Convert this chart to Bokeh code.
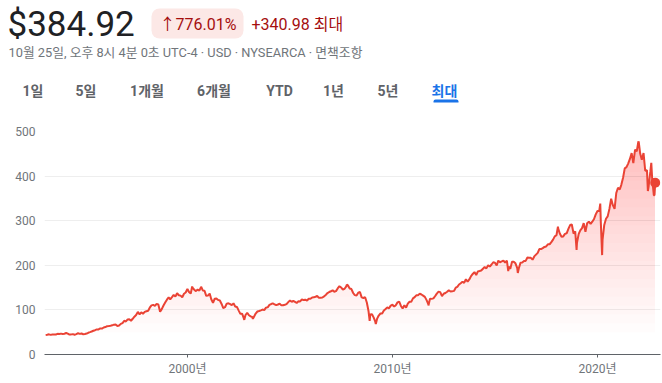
import numpy as np
import pandas as pd
from datetime import datetime
from bokeh.plotting import figure
from bokeh.models import Range1d, FixedTicker, ColumnDataSource
from bokeh.embed import file_html
from bokeh.resources import INLINE
from bokeh.core.properties import value

# ---------------- data (month-end closes) ----------------
prices_1993_1999 = [
    43.9, 44.3, 45.2, 44.0, 45.0, 45.1, 44.8, 46.4, 45.9, 46.8, 46.2, 46.6,
    48.2, 46.7, 44.6, 45.1, 45.7, 44.4, 45.8, 47.6, 46.3, 47.2, 45.4, 45.9,
    47.0, 48.7, 50.1, 51.5, 53.3, 54.5, 56.2, 56.2, 58.4, 58.2, 60.5, 61.6,
    63.6, 64.0, 64.6, 65.4, 66.9, 67.1, 64.0, 65.2, 68.7, 70.5, 75.7, 74.1,
    78.6, 79.1, 75.7, 80.1, 84.8, 88.5, 95.4, 90.0, 94.7, 91.5, 95.5, 97.0,
    98.0, 104.9, 110.2, 111.2, 109.1, 113.4, 112.1, 95.7, 101.7, 109.9, 116.4, 122.9,
    128.0, 123.8, 128.6, 133.5, 130.2, 137.3, 132.9, 132.0, 128.3, 136.3, 138.9, 146.9,
]
prices_2000_2009 = [
    139.5, 136.6, 149.9, 145.2, 142.1, 145.5, 143.1, 151.8, 143.7, 142.9, 131.5, 132.0,
    136.6, 124.0, 116.0, 125.0, 125.6, 122.4, 121.1, 113.4, 104.1, 106.0, 114.0, 114.8,
    113.0, 110.7, 114.7, 107.7, 106.7, 99.0, 91.2, 91.6, 81.5, 88.6, 93.6, 88.0,
    85.6, 84.1, 84.8, 91.7, 96.4, 97.5, 99.0, 100.8, 99.6, 105.1, 105.8, 111.2,
    113.1, 114.5, 112.6, 110.7, 112.1, 114.1, 110.2, 110.4, 111.5, 113.0, 117.4, 121.2,
    118.1, 120.4, 118.1, 115.7, 119.2, 119.1, 123.4, 122.0, 122.9, 120.7, 125.0, 124.8,
    128.0, 128.1, 129.5, 131.1, 127.0, 127.0, 127.7, 130.4, 133.6, 137.8, 140.1, 141.8,
    143.8, 140.7, 142.1, 148.2, 153.1, 150.3, 145.5, 147.4, 152.7, 154.9, 148.1, 146.8,
    137.9, 133.1, 132.3, 138.6, 140.0, 128.0, 126.7, 128.3, 116.6, 96.9, 89.6, 90.3,
    82.6, 73.5, 79.8, 87.3, 91.9, 91.9, 98.8, 102.1, 105.7, 103.6, 109.6, 111.5,
]
prices_2010_2019 = [
    107.4, 110.5, 116.9, 118.7, 108.9, 103.1, 110.2, 104.9, 114.1, 118.3, 118.1, 125.8,
    128.6, 132.7, 132.6, 136.4, 134.5, 132.1, 129.2, 121.9, 113.1, 125.3, 124.7, 125.8,
    131.2, 136.6, 140.9, 139.8, 131.0, 136.2, 137.9, 140.7, 144.1, 141.2, 141.6, 142.6,
    149.8, 151.5, 156.9, 159.8, 163.1, 160.6, 168.6, 163.3, 168.2, 175.7, 180.6, 184.8,
    178.3, 186.0, 187.2, 188.4, 192.4, 196.0, 193.1, 200.3, 197.2, 201.8, 206.8, 205.9,
    199.5, 210.5, 206.8, 208.6, 210.7, 206.3, 210.4, 197.2, 192.0, 207.9, 208.0, 204.4,
    194.0, 193.2, 206.0, 206.5, 209.7, 209.9, 217.4, 217.1, 216.8, 212.6, 219.9, 223.9,
    227.9, 236.4, 236.3, 238.4, 241.2, 242.3, 247.0, 247.2, 251.9, 257.5, 264.8, 267.4,
    282.4, 271.4, 264.1, 264.8, 270.5, 271.8, 281.6, 290.2, 291.4, 271.2, 276.0, 250.7,
    270.4, 278.5, 283.4, 294.6, 275.2, 294.2, 298.0, 292.7, 297.7, 303.8, 314.1, 321.9,
]
prices_2020_2022 = [
    321.7, 296.3, 257.8, 290.5, 304.3, 309.7, 326.5, 349.3, 334.9, 326.5, 362.1, 373.9,
    370.1, 380.4, 396.3, 417.3, 420.0, 428.1, 438.5, 451.6, 429.1, 459.3, 455.6, 475.0,
    449.9, 436.6, 451.6, 412.0, 412.9, 377.3, 411.0, 395.2, 357.2,
]
# intra-month highs and lows visible in the chart
extreme_dates = [
    "2000-03-24", "2002-10-09", "2003-03-11", "2007-10-09", "2008-11-20",
    "2009-03-09", "2011-10-03", "2015-08-25", "2016-02-11", "2018-01-26",
    "2018-12-24", "2020-02-19", "2020-03-23", "2021-12-29", "2022-01-03",
    "2022-06-16", "2022-08-16", "2022-10-12", "2022-10-25",
]
extreme_prices = [
    152.6, 77.7, 80.0, 156.5, 75.3,
    68.1, 109.9, 186.9, 182.9, 286.6,
    234.3, 338.3, 222.9, 477.5, 477.7,
    366.6, 429.7, 357.0, 384.92,
]

y_ticks = [0, 100, 200, 300, 400, 500]
x_tick_dates = ["2000-01-01", "2010-01-01", "2020-01-01"]
x_tick_labels = ["2000년", "2010년", "2020년"]
tab_labels = ["1일", "5일", "1개월", "6개월", "YTD", "1년", "5년", "최대"]

price_text = "$384.92"
change_pct = "↑776.01%"
change_abs = "+340.98 최대"
subtitle = "10월 25일, 오후 8시 4분 0초 UTC-4 · USD · NYSEARCA · 면책조항"

# ---------------- build series ----------------
monthly = prices_1993_1999 + prices_2000_2009 + prices_2010_2019 + prices_2020_2022
monthly_dates = pd.date_range("1993-01-29", periods=len(monthly), freq=pd.offsets.MonthEnd())
df = pd.DataFrame({
    "date": list(monthly_dates) + list(pd.to_datetime(extreme_dates)),
    "price": monthly + extreme_prices,
}).sort_values("date").reset_index(drop=True)

RED = "#ea4335"
FONT = "Roboto, 'Noto Sans CJK KR', sans-serif"
W = 661

# ---------------- header (its own root; pixel coordinates, y downwards) ----------------
HH = 115
hp = figure(width=W, height=HH, x_range=Range1d(0, W), y_range=Range1d(HH, 0),
            toolbar_location=None, output_backend="svg", min_border=0,
            x_axis_location=None, y_axis_location=None, outline_line_color=None,
            background_fill_color="white", border_fill_color="white")
hp.grid.visible = False

def htext(x, y, text, size, color, align="left", baseline="middle", style="normal"):
    hp.text(x=[x], y=[y], text=[text], text_font=value(FONT), text_font_size=size,
            text_color=color, text_align=align, text_baseline=baseline,
            text_font_style=style)

htext(7, 24, price_text, "35px", "#202124")
hp.quad(left=151, right=243, top=8, bottom=38, fill_color="#fce8e6", line_color=None,
        border_radius=8)
htext(197.5, 24, change_pct, "16px", "#a50e0e", align="center")
htext(251, 24, change_abs, "16px", "#a50e0e")
htext(8, 52, subtitle, "12.8px", "#70757a")

tab_x = [32.5, 85.5, 146.5, 213.5, 279, 333, 387.5, 444]
for i, (tx, tl) in enumerate(zip(tab_x, tab_labels)):
    htext(tx, 90, tl, "14px", "#1a73e8" if i == len(tab_labels) - 1 else "#5f6368",
          align="center", style="bold")
hp.quad(left=433, right=458, top=99, bottom=102, fill_color="#1a73e8", line_color=None,
        border_radius=(2, 2, 0, 0))

# ---------------- chart ----------------
CH = 266
p = figure(width=W, height=CH, x_axis_type="datetime",
           x_range=Range1d(start=datetime(1993, 1, 10), end=datetime(2023, 1, 27)),
           y_range=Range1d(0, 500),
           toolbar_location=None, output_backend="svg",
           min_border_left=44, min_border_right=1, min_border_top=16, min_border_bottom=27,
           outline_line_color=None, background_fill_color="white", border_fill_color="white")

src = ColumnDataSource(df)
levels = np.arange(50, 500, 20)
for L in levels:
    p.varea(x=df["date"], y1=np.minimum(df["price"].values, L), y2=df["price"].values,
            fill_color=RED, fill_alpha=0.014)

p.line("date", "price", source=src, line_color=RED, line_width=2)
p.scatter(x=[df["date"].iloc[-1]], y=[df["price"].iloc[-1]], size=10, fill_color=RED,
          line_color=None)

tick_ms = [int(pd.Timestamp(d).value // 10**6) for d in x_tick_dates]
p.xaxis.ticker = FixedTicker(ticks=tick_ms)
p.xaxis.major_label_overrides = {t: lab for t, lab in zip(tick_ms, x_tick_labels)}
p.xaxis.minor_tick_line_color = None
p.xaxis.major_tick_in = 0
p.xaxis.major_tick_out = 3
p.xaxis.major_tick_line_color = "#5f6368"
p.xaxis.axis_line_color = "#5f6368"
p.xaxis.major_label_text_color = "#70757a"
p.xaxis.major_label_text_font = FONT
p.xaxis.major_label_text_font_size = "12px"
p.xaxis.major_label_standoff = 4

p.yaxis.ticker = FixedTicker(ticks=y_ticks)
p.yaxis.axis_line_color = None
p.yaxis.major_tick_line_color = None
p.yaxis.major_tick_out = 0
p.yaxis.major_tick_in = 0
p.yaxis.minor_tick_line_color = None
p.yaxis.major_label_text_color = "#70757a"
p.yaxis.major_label_text_font = FONT
p.yaxis.major_label_text_font_size = "12px"
p.yaxis.major_label_standoff = 9

p.xgrid.visible = False
p.ygrid.grid_line_color = "#eeeeee"
p.ygrid.ticker = FixedTicker(ticks=y_ticks[1:])

open("out.html", "w").write(file_html([hp, p], INLINE))
